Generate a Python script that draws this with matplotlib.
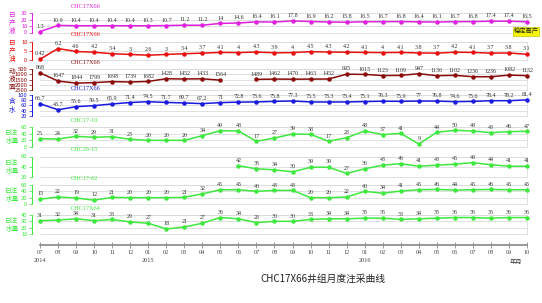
import matplotlib
matplotlib.use('Agg')
import matplotlib.pyplot as plt
import numpy as np

plt.rcParams['font.family'] = ['Noto Sans CJK SC', 'DejaVu Sans']

nan = np.nan
months = ['07', '08', '09', '10', '11', '12',
          '01', '02', '03', '04', '05', '06', '07', '08', '09', '10', '11', '12',
          '01', '02', '03', '04', '05', '06', '07', '08', '09', '10']
years = {0: '2014', 6: '2015', 18: '2016'}

liquid = [1.3, 10.9, 10.4, 10.4, 10.4, 10.4, 10.3, 10.7, 11.2, 11.2, 14, 14.6, 16.4, 16.1,
          17.8, 16.9, 16.2, 15.8, 16.5, 16.7, 16.8, 16.4, 16.1, 16.7, 16.8, 17.4, 17.4, 16.5]
oil = [0.42, 6.2, 4.6, 4.2, 3.4, 3, 2.6, 3, 3.4, 3.7, 4.1, 4, 4.3, 3.9,
       4, 4.5, 4.3, 4.2, 4.1, 4, 4.1, 3.8, 3.7, 4.2, 4.1, 3.7, 3.8, 3.1]
fluid_level = [868, 1647, 1844, 1799, 1698, 1739, 1682, 1428, 1452, 1433, 1564, nan, 1489, 1462,
               1470, 1463, 1452, 995, 1015, 1123, 1109, 947, 1136, 1102, 1236, 1236, 1082, 1132]
water_cut = [66.7, 43.7, 55.6, 59.5, 65.9, 71.4, 74.5, 71.7, 69.7, 67.2, 71, 72.8, 73.6, 75.8,
             77.3, 73.5, 73.3, 73.4, 75.1, 76.3, 75.9, 77, 76.8, 74.6, 75.6, 78.4, 78.2, 81.4]
inj_17_10 = [25, 24, 32, 29, 31, 23, 20, 20, 20, 34, 49, 48, 17, 27,
             39, 38, 17, 28, 48, 37, 41, 9, 44, 50, 48, 43, 46, 47]
inj_26_15 = [nan] * 11 + [42, 36, 34, 30, 39, 39, 27, 36, 43, 46, 41, 43, 45, 48, 44, 41, 41]
inj_17_62 = [15, 22, 19, 12, 21, 20, 20, 20, 21, 32, 45, 45, 40, 43,
             43, 20, 20, 22, 40, 34, 41, 45, 46, 44, 45, 46, 45, 45]
inj_17x64 = [31, 32, 34, 31, 33, 29, 27, 18, 21, 27, 36, 34, 28, 30,
             30, 33, 34, 34, 35, 35, 33, 34, 35, 36, 36, 35, 36, 36]

W, H = 542, 303
fig = plt.figure(figsize=(W / 100, H / 100), dpi=100)
x = np.arange(len(months))
L, R = 40, 527
serif = ['Liberation Serif', 'DejaVu Serif']

green = '#3ee83e'
# (data, well name, color, y label, ylim, ticks, top px, bottom px)
panels = [
    (liquid, 'CHC17X66', '#e020e0', '日\n产\n液', (0, 30), [0, 10, 20, 30], 13, 32.5),
    (oil, 'CHC17X66', '#e81010', '日\n产\n油', (0, 10), [0, 5, 10], 41.5, 60),
    (fluid_level, 'CHC17X66', '#8b0a0a', '动\n液\n面', (2500, 500), [500, 1000, 1500, 2000, 2500], 69, 90),
    (water_cut, 'CHC17X66', '#1a1ae0', '含\n水', (20, 100), [20, 40, 60, 80, 100], 95, 116),
    (inj_17_10, 'CHC17-10', green, '日注\n水量', (0, 60), [0, 20, 40, 60], 127, 147),
    (inj_26_15, 'CHC26-15', green, '日注\n水量', (20, 60), [20, 40, 60], 156.5, 177),
    (inj_17_62, 'CHC17-62', green, '日注\n水量', (0, 60), [0, 20, 40, 60], 185, 204),
    (inj_17x64, 'CHC17X64', green, '日注\n水量', (10, 40), [10, 20, 30, 40], 215, 234),
]

for data, name, col, ylab, ylim, ticks, top, bot in panels:
    ax = fig.add_axes([L / W, 1 - bot / H, (R - L) / W, (bot - top) / H])
    ax.plot(x, data, color=col, lw=1.1, marker='o', ms=2.2, clip_on=False, zorder=3)
    ax.set_xlim(0, len(months) - 1)
    ax.set_ylim(*ylim)
    ax.set_yticks(ticks)
    ax.set_xticks([])
    ax.grid(axis='y', color='#dcdcdc', lw=0.6)
    for s in ['top', 'right', 'bottom']:
        ax.spines[s].set_color('#dcdcdc')
        ax.spines[s].set_linewidth(0.6)
    ax.spines['left'].set_position(('outward', 6))
    ax.spines['left'].set_color(col)
    ax.spines['left'].set_linewidth(0.7)
    ax.tick_params(axis='y', colors=col, labelsize=4.2, length=2, width=0.5, pad=1)
    for i, v in enumerate(data):
        if not np.isnan(v):
            ax.annotate(f'{v:g}', (i, v), xytext=(0, 2), textcoords='offset points',
                        ha='center', va='bottom', fontsize=4.3, color='#333333', family=serif)
    ax.annotate(name, (0, 1), xycoords='axes fraction', xytext=(22, 3), textcoords='offset points',
                fontsize=4.5, color=col, va='bottom', ha='left', family=serif)
    fig.text(12 / W, 1 - (top + bot) / 2 / H, ylab, fontsize=4.8, color=col,
             ha='center', va='center', linespacing=1.0)

# bottom time axis
axx = fig.add_axes([L / W, 1 - 245 / H, (R - L) / W, 0.001])
axx.set_xlim(0, len(months) - 1)
axx.set_yticks([])
for s in ['top', 'right', 'left']:
    axx.spines[s].set_visible(False)
axx.spines['bottom'].set_color('#888888')
axx.spines['bottom'].set_linewidth(1.2)
axx.set_xticks(x)
axx.set_xticklabels(months, family=serif)
axx.tick_params(axis='x', direction='inout', length=5, width=0.6, colors='#888888',
                labelsize=4.5, labelcolor='#444444', pad=1)
for i, yr in years.items():
    axx.annotate(yr, (i, 0), xycoords=('data', 'axes fraction'), xytext=(0, -9),
                 textcoords='offset points', fontsize=4.5, color='#444444',
                 ha='center', va='top', family=serif)

fig.text(516 / W, 1 - 262 / H, '年月', fontsize=4.5, color='#333333', ha='center', va='center')
fig.text(526 / W, 1 - 31.5 / H, '稳定高产', fontsize=4.5, color='#222222', ha='center', va='center',
         bbox=dict(boxstyle='square,pad=0.1', fc='#f5f500', ec='#c8c800', lw=0.5))
fig.text(323 / W, 1 - 279 / H, 'CHC17X66井组月度注采曲线', fontsize=7, color='#222222',
         ha='center', va='center')

fig.savefig('out.png', dpi=100)
